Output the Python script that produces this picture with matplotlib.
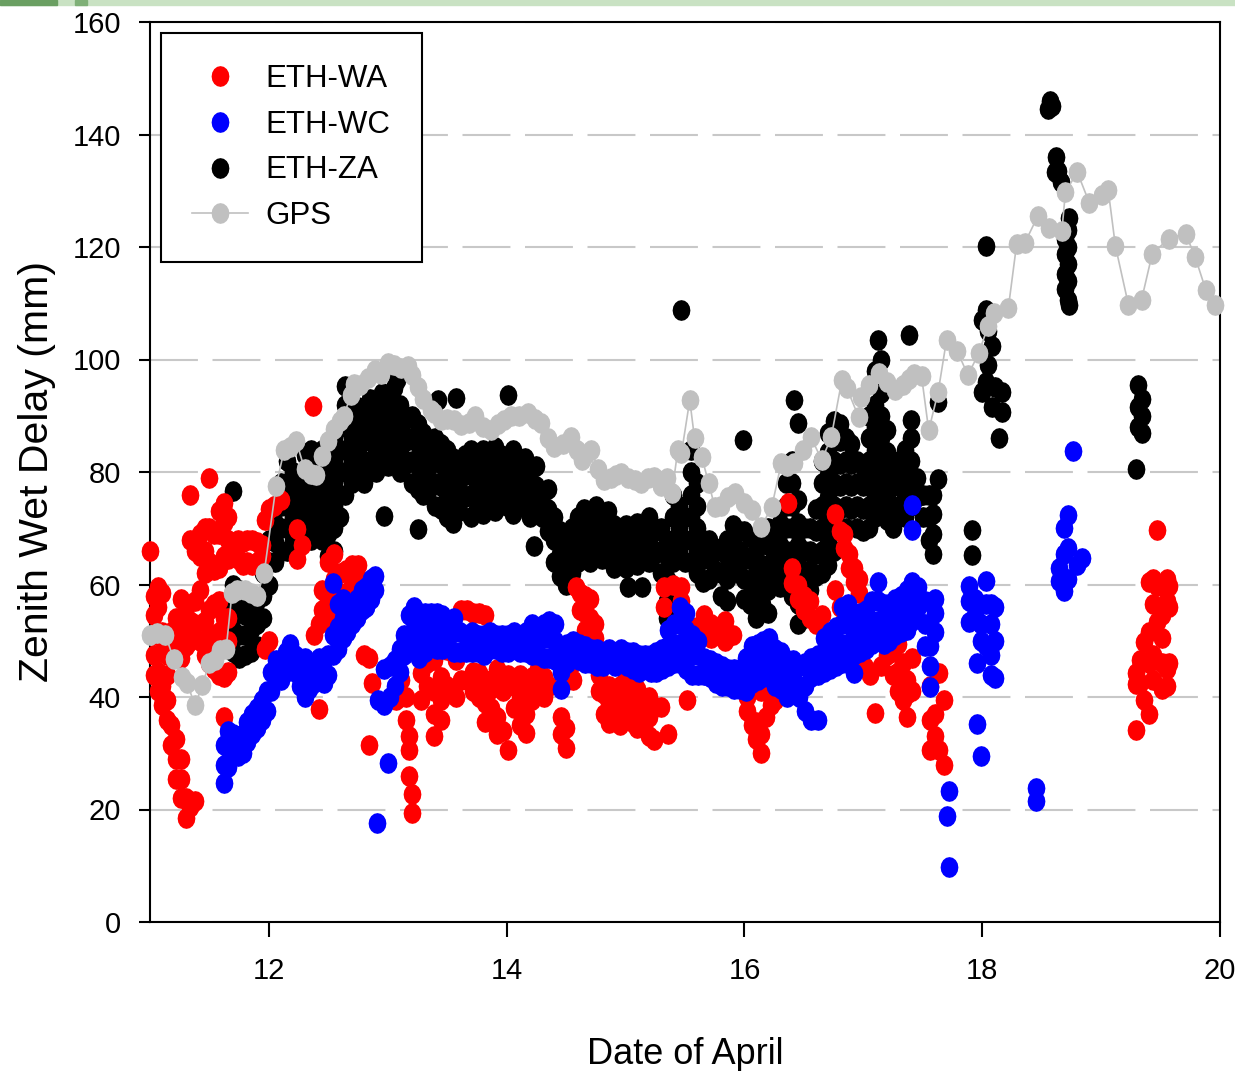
import numpy as np
import matplotlib
matplotlib.use("Agg")
import matplotlib.pyplot as plt
from matplotlib.patches import Rectangle

plt.rcParams['font.family'] = ['Liberation Sans', 'DejaVu Sans']

# zenith wet delay (mm), grouped as (day of April, [values near that time])
za_cols = [
    (11.70, [48, 52, 56, 60, 76.6]), (11.75, [47, 51, 55, 59]), (11.80, [47.5, 51, 54.5, 58]),
    (11.85, [48, 52, 56]), (11.90, [49, 53, 57]), (11.95, [54, 58, 62]), (12.00, [60, 64, 68]),
    (12.05, [64, 67.5, 71, 74]), (12.10, [66, 70, 74, 78]), (12.15, [66, 70, 74, 78, 82]),
    (12.20, [68, 72, 76, 80]), (12.25, [70, 74, 78]), (12.30, [68, 72, 76, 80, 83]),
    (12.35, [68, 72, 76, 80, 84]), (12.40, [70, 74, 78, 82]), (12.45, [68, 72, 76, 80, 84]),
    (12.50, [65, 69, 73, 77, 81, 85]), (12.55, [66, 70, 74, 78, 82, 86]),
    (12.60, [72, 76, 80, 84, 88]), (12.64, [76, 80, 84, 88, 92, 95.3]), (12.70, [78, 82, 86, 90]),
    (12.75, [79.5, 83.5, 87.5, 91.5]), (12.80, [78, 82, 86, 90]), (12.85, [81.5, 85.5, 89.5, 93]),
    (12.90, [80, 84, 88, 92]), (12.95, [82.5, 86.5, 90.5, 94]), (12.97, [72.1]),
    (13.00, [81, 85, 89, 93]), (13.05, [83, 87, 91, 95]), (13.08, [96.4]),
    (13.10, [80, 84, 88, 92]), (13.15, [81.5, 85.5, 89.5]), (13.20, [78, 82, 86, 90]),
    (13.25, [69.8, 77, 81, 85, 88.5]), (13.30, [76, 80, 84, 87]), (13.35, [77, 81, 85]),
    (13.40, [74, 78, 82, 86]), (13.42, [92.8]), (13.45, [73.5, 77.5, 81.5, 85]),
    (13.50, [72, 76, 80, 84]), (13.55, [71, 74.5, 78.5, 82.5]), (13.57, [93.1]),
    (13.60, [73, 77, 81]), (13.65, [75.5, 79.5, 83]), (13.70, [72, 76, 80, 84]),
    (13.75, [73.5, 77.5, 81.5]), (13.80, [72.5, 76, 80, 84]), (13.85, [74.5, 78.5, 82.5]),
    (13.90, [73, 77, 81, 84.5]), (13.95, [75.5, 79.5, 83]), (14.00, [74, 78, 82]),
    (14.01, [93.7]), (14.05, [72.5, 76.5, 80.5, 84]), (14.10, [74, 78, 82]),
    (14.15, [75, 79, 82.5]), (14.20, [72, 76, 80]), (14.23, [66.8]), (14.25, [73.5, 77.5, 81]),
    (14.30, [72, 76]), (14.35, [69.5, 73.5, 77]), (14.40, [64, 68, 72]),
    (14.45, [61.5, 65.5, 69.5]), (14.50, [60, 64, 68]), (14.55, [62, 66, 70]),
    (14.60, [64, 68, 72]), (14.65, [65.5, 69.5, 73.5]), (14.70, [64, 68, 72]),
    (14.75, [66.5, 70.5, 74]), (14.80, [64.5, 68.5, 72]), (14.85, [66, 70, 73]),
    (14.90, [63, 67, 70.5]), (14.95, [65, 69]), (15.00, [63, 67, 70.5]), (15.02, [59.6]),
    (15.05, [65, 69]), (15.10, [63.5, 67.5, 71]), (15.14, [59.6]), (15.15, [66, 70]),
    (15.20, [64, 68, 72]), (15.25, [65.5, 69.5]), (15.30, [62, 66, 70]),
    (15.35, [54, 57, 61, 65, 68]), (15.40, [64, 68, 72, 76]), (15.45, [66, 70, 74]),
    (15.47, [108.8]), (15.50, [64, 68, 72]), (15.55, [64, 68, 72, 76, 80, 84]),
    (15.60, [62, 66, 70, 74, 78]), (15.65, [60.5, 64.5, 68]), (15.70, [61, 64.5, 68]),
    (15.75, [62.5, 66.5]), (15.80, [58, 62, 66]), (15.85, [57, 61, 65, 68]),
    (15.90, [63.5, 67.5, 70.5]), (15.95, [62, 66, 69.5]), (15.99, [85.7]),
    (16.00, [57.5, 61, 65, 69.5]), (16.05, [56.5, 60.5, 64.5, 68.5]), (16.10, [54, 58, 62, 66]),
    (16.15, [56.5, 60, 63.5, 67.5]), (16.20, [55, 59, 63, 67, 70]), (16.25, [61.5, 65.5, 69.5]),
    (16.30, [59.5, 63, 67, 71]), (16.35, [62, 66, 70, 74, 78]),
    (16.40, [58, 62, 66, 70, 74, 78, 82]), (16.42, [92.8]),
    (16.45, [53, 56.5, 60, 63.5, 67, 71, 75, 88.7]), (16.50, [54, 58, 62, 66, 70]),
    (16.55, [59, 62.5, 66, 70]), (16.60, [61.5, 65.5, 69.5, 73.5]),
    (16.65, [62, 66, 70, 74, 78, 82]), (16.70, [63.5, 67.5, 71.5, 75.5, 79.5, 83.5, 87]),
    (16.75, [66, 70, 74, 78, 82, 86, 89]), (16.80, [69.5, 73.5, 77.5, 81.5, 85.5, 88.5]),
    (16.85, [70, 74, 78, 82, 86]), (16.90, [73.5, 77.5, 81.5, 85]), (16.95, [70, 74, 78, 82]),
    (17.00, [69.5, 73.5, 77.5, 81]), (17.05, [70, 74, 78, 82, 86, 90]),
    (17.10, [72, 76, 80, 84, 88, 92, 98]), (17.12, [103.5]),
    (17.15, [74, 78, 82, 86, 90, 94, 100]), (17.20, [71.5, 75.5, 79.5, 83.5, 87.5]),
    (17.25, [70, 74, 78, 82]), (17.30, [73.5, 77.5, 81]), (17.35, [72, 76, 80, 84]),
    (17.38, [104.4]), (17.40, [74, 78, 82, 86, 89.2]), (17.45, [75.5, 79]), (17.50, [72, 76]),
    (17.55, [68, 72, 76]), (17.59, [65.5, 69, 72.5, 76]), (17.63, [78.8, 92.4]),
    (17.91, [65.2, 69.7]), (18.00, [94.3, 107]), (18.03, [96, 108.8, 120.2]), (18.05, [99, 105]),
    (18.08, [91.5, 102.4]), (18.11, [95.2]), (18.14, [86]), (18.17, [90.6, 94.2]),
    (18.55, [144.6]), (18.57, [146]), (18.59, [145]), (18.61, [133.3]), (18.62, [136]),
    (18.64, [133.5]), (18.66, [131.5]), (18.70, [112.5, 115.2, 118.8, 121.5]),
    (18.72, [110.5, 114, 117, 120, 123]), (18.73, [109.7, 125.2]), (19.29, [80.6]),
    (19.31, [88, 91.5, 95.5]), (19.34, [87, 90, 93]),
]

wa_cols = [
    (11.00, [66]), (11.03, [44, 47.5, 51, 54.5, 58]), (11.07, [41, 44.5, 56, 59.5]),
    (11.10, [38.5, 42, 48, 51.5, 58.5]), (11.14, [36, 39.5, 44, 47.5]),
    (11.18, [31.5, 35, 48, 51.5]), (11.22, [25.5, 29, 32.5, 50.5, 54]),
    (11.26, [22, 25.5, 29, 47, 57.5]), (11.30, [18.5, 22, 49, 52.5, 56]),
    (11.34, [20.5, 50, 53.5, 68, 76]), (11.38, [21.5, 53, 57, 66]), (11.42, [50, 59, 65, 69]),
    (11.46, [47.5, 53.5, 62, 66, 70]), (11.50, [46, 51, 55.5, 64, 70, 79]),
    (11.54, [45, 49, 56.5, 62.5, 69]), (11.58, [44, 51.5, 57, 63, 69, 73]),
    (11.62, [36.5, 43.5, 49.5, 54, 65, 71, 74.5]), (11.66, [44.5, 50, 54, 64.5, 68, 72]),
    (11.70, [67.5]), (11.74, [64.5, 68]), (11.78, [63.5, 67.5]), (11.82, [64, 68]),
    (11.86, [63.5, 68]), (11.90, [64, 67.5]), (11.94, [65, 67]), (11.97, [48.5, 71.5]),
    (12.00, [50, 73.5]), (12.04, [74]), (12.10, [75]), (12.24, [64.5, 69.8]), (12.28, [67]),
    (12.37, [91.7]), (12.38, [51]), (12.42, [37.9, 53]), (12.45, [55.5, 59]),
    (12.50, [54, 57.5, 64]), (12.55, [57, 61, 65.5]), (12.60, [58.5, 62]), (12.65, [58.5, 62.5]),
    (12.70, [60, 63.5]), (12.75, [57.5, 61, 63.5]), (12.80, [47.5]), (12.84, [31.4, 47]),
    (12.87, [42.5]), (13.07, [39.5]), (13.11, [43]), (13.15, [36, 40]), (13.18, [26, 30.5, 33]),
    (13.20, [19.4, 22.8]), (13.28, [39.5, 44.2]), (13.33, [42, 46]), (13.39, [33, 37, 41, 46.6]),
    (13.45, [36, 39.5, 43.5]), (13.50, [41.9, 48.4]), (13.57, [40, 46.6]), (13.62, [43, 55.5]),
    (13.67, [48.4, 55.5]), (13.72, [41, 44.5, 55]), (13.77, [40, 44.2, 54.9]),
    (13.82, [35.5, 39, 43, 54.5]), (13.87, [38, 41.5]), (13.92, [33.5, 36.5, 42, 45]),
    (13.97, [34, 41]), (14.01, [30.6, 44]), (14.06, [38, 42]), (14.11, [35, 40, 44]),
    (14.16, [33.6, 37, 42]), (14.21, [39.5, 43.5]), (14.26, [40.5, 45]), (14.31, [40, 43.5]),
    (14.36, [42]), (14.46, [33.5, 36.5]), (14.50, [31, 34.5]), (14.56, [43, 46]), (14.58, [59.5]),
    (14.62, [55.5, 58.5]), (14.66, [52, 55, 58]), (14.70, [50.5, 54, 57.5]), (14.74, [50.5, 53]),
    (14.78, [41, 44]), (14.82, [37, 40.5]), (14.86, [35.4, 39, 42]), (14.90, [36.5, 40]),
    (14.95, [35, 38.5, 42]), (15.00, [36, 40, 43.5]), (15.05, [35.5, 39]),
    (15.10, [34.5, 38, 41.5]), (15.15, [36, 39.5]), (15.20, [33, 36.5, 40]), (15.24, [32.4, 38.3]),
    (15.30, [38.3]), (15.32, [56, 59.5]), (15.36, [33.5]), (15.40, [60]), (15.47, [57, 59.5]),
    (15.52, [39.5]), (15.60, [52.5]), (15.66, [51, 54.5]), (15.72, [50.5, 53]), (15.78, [51.5]),
    (15.84, [50, 53.5]), (15.90, [51]), (15.98, [43]), (16.02, [37.5, 40]), (16.06, [35, 41.5]),
    (16.10, [32.5, 35.5]), (16.14, [30, 33.5, 41]), (16.18, [36.5]), (16.22, [38.5]),
    (16.26, [39.5]), (16.37, [74.4]), (16.40, [60.2, 63]), (16.45, [57.5, 60]),
    (16.50, [55.5, 58]), (16.55, [54, 57]), (16.60, [53]), (16.65, [54.5]), (16.76, [59, 72.5]),
    (16.80, [56, 69.5]), (16.84, [66.5, 69]), (16.88, [63, 65.5]), (16.92, [60.5, 63]),
    (16.96, [58.5, 61]), (17.01, [45.4]), (17.06, [44]), (17.10, [37.1]), (17.15, [45.5]),
    (17.20, [47.5, 51]), (17.25, [44, 48]), (17.29, [41, 44.5, 49.5]), (17.33, [39.5, 46]),
    (17.37, [36.5, 40.5, 43]), (17.41, [41, 47]), (17.56, [30.6, 36, 42]), (17.60, [33, 37]),
    (17.64, [30.6, 44.2]), (17.68, [28, 39.5]), (19.29, [34.2, 42.4, 44.2]), (19.33, [42.5, 46.5]),
    (19.36, [39.5, 49.7]), (19.40, [37, 46, 51.5, 60.5]), (19.44, [43, 47.5, 56.5, 61]),
    (19.47, [53.3, 59.7, 69.7]), (19.51, [41.5, 46, 50.5, 54.5]), (19.55, [42, 45, 57, 61]),
    (19.57, [46.1, 56, 59.7]),
]

wc_cols = [
    (11.62, [24.7, 28, 31.5]), (11.66, [27.5, 31, 34]), (11.70, [30, 33.5]), (11.74, [29.5, 33]),
    (11.78, [30, 33.5]), (11.82, [32, 35.5]), (11.86, [33.5, 37]), (11.90, [34.5, 38]),
    (11.94, [36, 39.5]), (11.98, [37.5, 41]), (12.02, [41, 44.5]), (12.06, [43.5, 46.5]),
    (12.10, [43, 46.5]), (12.14, [44.5, 48]), (12.18, [46, 49.5]), (12.22, [44.5, 47.5]),
    (12.26, [42, 45.5]), (12.30, [40, 43.5, 47]), (12.34, [41.5, 45]), (12.38, [42.5, 46]),
    (12.42, [43.5, 47]), (12.46, [42.5, 46.5]), (12.50, [44, 47.5]), (12.54, [47.5, 51, 60.3]),
    (12.58, [48.5, 52.5, 56.5]), (12.62, [50.5, 54, 57.5]), (12.66, [51.5, 55]),
    (12.70, [53, 56.5]), (12.74, [54, 57.5]), (12.78, [55.5, 59]), (12.82, [56, 59.5]),
    (12.86, [57.5, 61]), (12.89, [59, 61.5]), (12.91, [17.6]), (12.92, [39.5]),
    (12.97, [38.5, 45]), (13.00, [28.3]), (13.02, [40, 45.5]), (13.06, [42, 46.5]),
    (13.10, [44.5, 48.5]), (13.14, [47.5, 51]), (13.18, [50.5, 54.5]), (13.22, [49, 53.5, 56]),
    (13.26, [47, 50.5, 54]), (13.31, [48, 51.5, 55]), (13.36, [49, 52.5, 55]),
    (13.41, [48.5, 52, 55]), (13.46, [48.5, 52, 54.5]), (13.51, [49, 52.5]),
    (13.56, [48, 51.5, 54]), (13.61, [48, 51.5]), (13.66, [48, 51]), (13.71, [48, 51.5]),
    (13.76, [48, 51]), (13.81, [47.5, 51]), (13.86, [48.5, 51.5]), (13.91, [48.5, 51]),
    (13.96, [48, 51]), (14.01, [48, 51]), (14.06, [48.5, 51.5]), (14.11, [48, 51]),
    (14.16, [48, 51.5]), (14.21, [47.5, 51, 53]), (14.26, [47.5, 50.5]), (14.31, [47, 50.5, 53]),
    (14.36, [47, 50.5, 53.5]), (14.41, [46.5, 50, 53]), (14.46, [41.5, 44.5, 48]),
    (14.51, [46, 49.5]), (14.56, [47, 50]), (14.61, [46.5, 49.5]), (14.66, [46, 49]),
    (14.71, [46, 48.5]), (14.76, [45.5, 48.5]), (14.81, [45.5, 48]), (14.86, [46, 48.5]),
    (14.91, [45.5, 48]), (14.96, [46, 48.5]), (15.01, [45.5, 48]), (15.06, [45, 48]),
    (15.11, [44.5, 47.5]), (15.16, [45, 47.5]), (15.21, [44.5, 47.5]), (15.26, [44.5, 48]),
    (15.31, [45, 48.5]), (15.36, [45.5, 49, 52]), (15.41, [46, 49.5, 53]),
    (15.46, [46, 49.5, 53, 56]), (15.51, [45, 48.5, 52, 55]), (15.56, [44, 47.5, 51]),
    (15.61, [44, 47.5, 50]), (15.66, [44, 47]), (15.71, [43.5, 46.5]), (15.76, [42.5, 46]),
    (15.81, [42, 45.5]), (15.86, [42, 45]), (15.91, [41.5, 45]), (15.96, [41.5, 44.5]),
    (16.01, [41, 44.5, 47]), (16.06, [42.5, 46, 49]), (16.11, [43, 46.5, 49.5]),
    (16.16, [43.5, 47, 50]), (16.21, [43.5, 47, 50.5]), (16.26, [42, 45.5, 48.5]),
    (16.31, [41.5, 45, 48]), (16.36, [40, 43.5, 46.5]), (16.41, [40.5, 44, 46.5]),
    (16.46, [40, 42, 45.5]), (16.51, [37.5, 42, 46]), (16.56, [36, 43.5, 47]),
    (16.62, [36, 44, 47.5]), (16.67, [44.5, 48, 50.5]), (16.72, [45, 48.5, 51.5]),
    (16.77, [45.5, 49, 52.5]), (16.82, [46, 49.5, 53, 56]), (16.87, [46, 49.5, 53, 56.5]),
    (16.92, [44.2, 47.5, 51, 54.5]), (16.97, [48, 51.5, 55]), (17.02, [48.5, 52, 55.5]),
    (17.07, [49.5, 53, 57]), (17.12, [50, 53.5, 57, 60.5]), (17.17, [49.5, 53, 56.5]),
    (17.22, [50, 53.5, 56.5]), (17.27, [51, 54.5, 57.5]), (17.32, [51.5, 55, 58]),
    (17.37, [52, 55.5, 59]), (17.41, [53.5, 57, 60.5, 69.7, 74.2]), (17.46, [56, 59.5]),
    (17.52, [49, 53, 57]), (17.56, [41.8, 45.5, 49]), (17.60, [51.5, 55, 57.5]), (17.70, [18.8]),
    (17.72, [9.7, 23.3]), (17.89, [53.3, 57, 59.7]), (17.94, [54.5, 57.5]), (17.96, [35.2, 46.1]),
    (17.99, [29.5, 50, 53]), (18.03, [49, 56.5, 60.6]), (18.07, [44, 47.5, 53, 56.5]),
    (18.11, [43.3, 50, 56]), (18.45, [21.5, 23.8]), (18.65, [60.6, 63]), (18.69, [58.8, 65.5, 70]),
    (18.72, [61, 66.5, 72.4]), (18.76, [83.8]), (18.80, [63.5]), (18.84, [64.7]),
]

gps_day = [
    11.00, 11.06, 11.13, 11.20, 11.27, 11.31, 11.38, 11.44, 11.50, 11.55,
    11.59, 11.64, 11.69, 11.73, 11.80, 11.85, 11.90, 11.96, 12.06, 12.13,
    12.18, 12.23, 12.30, 12.35, 12.40, 12.45, 12.50, 12.55, 12.60, 12.63,
    12.69, 12.72, 12.77, 12.83, 12.89, 12.94, 13.00, 13.05, 13.11, 13.17,
    13.20, 13.25, 13.30, 13.36, 13.39, 13.45, 13.50, 13.56, 13.62, 13.68,
    13.73, 13.80, 13.87, 13.93, 13.98, 14.04, 14.10, 14.18, 14.24, 14.29,
    14.35, 14.40, 14.47, 14.54, 14.59, 14.63, 14.67, 14.71, 14.77, 14.82,
    14.88, 14.92, 14.96, 15.02, 15.08, 15.13, 15.19, 15.24, 15.30, 15.35,
    15.39, 15.44, 15.47, 15.54, 15.58, 15.64, 15.70, 15.75, 15.80, 15.86,
    15.92, 16.00, 16.06, 16.14, 16.23, 16.31, 16.36, 16.42, 16.49, 16.56,
    16.65, 16.73, 16.82, 16.86, 16.96, 16.98, 17.05, 17.13, 17.20, 17.27,
    17.33, 17.38, 17.43, 17.49, 17.55, 17.63, 17.70, 17.79, 17.88, 17.97,
    18.05, 18.10, 18.22, 18.29, 18.36, 18.47, 18.56, 18.67, 18.70, 18.80,
    18.90, 19.01, 19.06, 19.12, 19.23, 19.34, 19.43, 19.57, 19.71, 19.79,
    19.88, 19.96,
]
gps_zwd = [
    51.0, 51.4, 51.0, 46.7, 43.5, 42.5, 38.5, 42.2, 46.0, 46.6,
    48.4, 48.5, 58.5, 59.0, 59.0, 58.5, 58.0, 62.0, 77.5, 84.0,
    84.5, 85.5, 80.5, 79.6, 79.5, 82.8, 85.5, 87.6, 89.0, 90.0,
    93.7, 95.6, 95.5, 96.7, 98.2, 97.5, 99.4, 99.0, 98.5, 98.8,
    97.2, 95.2, 93.0, 91.0, 90.5, 89.2, 89.5, 89.3, 88.4, 88.8,
    89.9, 88.0, 87.5, 88.5, 89.3, 89.9, 90.0, 90.5, 89.5, 88.7,
    86.0, 84.5, 85.0, 86.3, 84.0, 82.2, 83.2, 84.0, 80.5, 78.6,
    79.0, 79.5, 79.8, 79.0, 78.6, 78.0, 79.0, 79.2, 77.5, 79.0,
    76.2, 84.0, 83.3, 92.8, 86.0, 82.7, 78.0, 73.8, 74.0, 75.5,
    76.3, 74.5, 73.2, 70.2, 73.8, 81.6, 81.0, 81.6, 84.0, 86.2,
    82.1, 86.2, 96.4, 95.0, 89.8, 93.3, 95.5, 97.6, 96.0, 94.6,
    95.5, 96.5, 97.5, 97.0, 87.4, 94.3, 103.5, 101.5, 97.2, 101.1,
    106.0, 108.3, 109.2, 120.6, 120.8, 125.6, 123.4, 122.9, 129.8, 133.3,
    127.9, 129.2, 130.1, 120.2, 109.7, 110.6, 118.8, 121.5, 122.4, 118.3,
    112.4, 109.7,
]


def unpack(cols):
    days = [d for d, vals in cols for _ in vals]
    zwd = [v for _, vals in cols for v in vals]
    return np.array(days), np.array(zwd)


za_day, za_zwd = unpack(za_cols)
wa_day, wa_zwd = unpack(wa_cols)
wc_day, wc_zwd = unpack(wc_cols)

# slightly tall octagon-ish dot, like the original export
t = np.linspace(0, 2 * np.pi, 17)
dot = list(zip(np.cos(t), 1.17 * np.sin(t)))
mk = dict(marker=dot, ms=15, mew=0, ls='none', clip_on=False)

fig = plt.figure(figsize=(12.35, 10.71), dpi=100)

# green strip along the top (slide template)
fig.patches.append(Rectangle((0, 1 - 5 / 1071), 1, 5 / 1071, transform=fig.transFigure,
                             color='#c9e2c3', zorder=0))
fig.patches.append(Rectangle((0, 1 - 5 / 1071), 57 / 1235, 5 / 1071, transform=fig.transFigure,
                             color='#6a9f62', zorder=1))
fig.patches.append(Rectangle((75 / 1235, 1 - 5 / 1071), 12 / 1235, 5 / 1071,
                             transform=fig.transFigure, color='#7fb077', zorder=1))

ax = fig.add_axes([150 / 1235, 149 / 1071, 1070 / 1235, 900 / 1071])

ax.plot(za_day, za_zwd, color='black', zorder=2, label='ETH-ZA', **mk)
ax.plot(wa_day, wa_zwd, color='#ff0000', zorder=3, label='ETH-WA', **mk)
ax.plot(wc_day, wc_zwd, color='#0000ff', zorder=4, label='ETH-WC', **mk)
ax.plot(gps_day, gps_zwd, color='#c0c0c0', lw=1.2, marker=dot, ms=15, mew=0,
        clip_on=False, zorder=5, label='GPS')

ax.set_xlim(11, 20)
ax.set_ylim(0, 160)
ax.set_xticks([12, 14, 16, 18, 20])
ax.set_yticks(np.arange(0, 161, 20))
ax.tick_params(axis='y', direction='out', length=8, width=1.5, pad=13, labelsize=21)
ax.tick_params(axis='x', direction='out', length=11, width=1.5, pad=14, labelsize=21)
for s in ax.spines.values():
    s.set_linewidth(1.5)

ax.set_axisbelow(True)
ax.yaxis.grid(True, color='#c8c8c8', lw=1.5, ls=(0, (23, 7)))

ax.set_xlabel('Date of April', fontsize=26, labelpad=38)
ax.set_ylabel('Zenith Wet Delay (mm)', fontsize=29.5, labelpad=12)

h, l = ax.get_legend_handles_labels()
order = [1, 2, 0, 3]
leg = ax.legend([h[i] for i in order], [l[i] for i in order], loc='upper left',
                fontsize=22.5, frameon=True, fancybox=False, framealpha=1, edgecolor='black',
                borderaxespad=0.35, borderpad=1.0, labelspacing=0.5, handlelength=1.8,
                handletextpad=0.55)
leg.get_frame().set_linewidth(1.5)
leg.set_zorder(10)

fig.savefig('out.png', dpi=100)
